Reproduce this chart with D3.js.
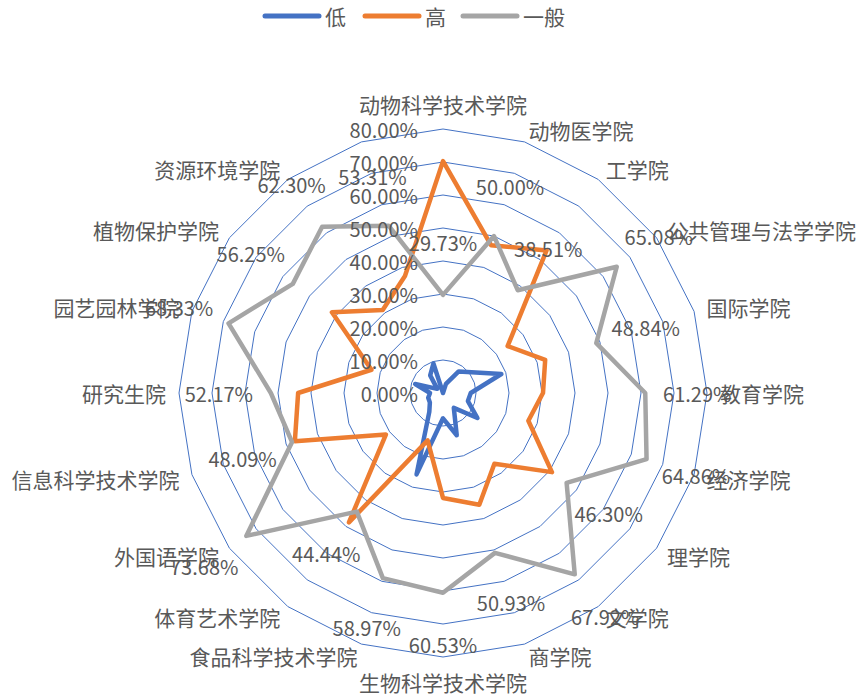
<!DOCTYPE html>
<html><head><meta charset="utf-8">
<script src="https://cdn.jsdelivr.net/npm/d3@7"></script>
<style>
html,body{margin:0;padding:0;background:#fff;}
text{font-family:"Noto Sans CJK SC","Noto Sans",sans-serif;fill:#595959;}
</style></head>
<body><svg id="chart" width="861" height="695"></svg>
<script>
const categories = ["动物科学技术学院","动物医学院","工学院","公共管理与法学学院","国际学院","教育学院","经济学院","理学院","文学院","商学院","生物科学技术学院","食品科学技术学院","体育艺术学院","外国语学院","信息科学技术学院","研究生院","园艺园林学院","植物保护学院","资源环境学院",""];
const seriesNames = ["低","高","一般"];
const lowValues  = [0.00,2.90,8.09,10.72,18.60,8.41,7.94,12.90,5.58,13.47,7.67,25.93,7.06,4.92,4.71,3.93,8.87,2.15,6.60,9.40];
const highValues = [70.27,47.10,53.40,24.20,32.56,30.30,27.20,40.80,26.50,35.60,31.80,15.10,48.50,21.40,47.20,43.90,22.80,41.60,31.10,37.29];
const midValues  = [29.73,50.00,38.51,65.08,48.84,61.29,64.86,46.30,67.92,50.93,60.53,58.97,44.44,73.68,48.09,52.17,68.33,56.25,62.30,53.31];
const tickValues = [0,10,20,30,40,50,60,70,80];
const colors = ["#4472C4","#ED7D31","#A5A5A5"];

const svg = d3.select("#chart");
const cx = 443, cy = 393;
const r = d3.scaleLinear().domain([0, 80]).range([0, 264]);
const angle = d3.scaleLinear().domain([0, categories.length]).range([0, 2*Math.PI]);
const pt = (i, v) => [cx + r(v)*Math.sin(angle(i)), cy - r(v)*Math.cos(angle(i))];

const g = svg.append("g");
// rings
tickValues.forEach(t => {
  if (t === 0) return;
  const pts = categories.map((c,i) => pt(i,t));
  g.append("path").attr("d", d3.line()(pts) + "Z")
    .attr("fill","none").attr("stroke","#4472C4").attr("stroke-width",1);
});

// series
const series = [lowValues, highValues, midValues];
series.forEach((vals, s) => {
  const pts = vals.map((v,i) => pt(i,v));
  g.append("path").attr("d", d3.line()(pts) + "Z")
    .attr("fill","none").attr("stroke",colors[s]).attr("stroke-width",4.5)
    .attr("stroke-linejoin","round");
});

// tick labels
tickValues.forEach(t => {
  g.append("text").attr("x", cx - 25).attr("y", cy - r(t))
    .attr("text-anchor","end").attr("dominant-baseline","central")
    .attr("font-size",20).text(t.toFixed(2) + "%");
});

// category labels
categories.forEach((c,i) => {
  const a = angle(i);
  const R = r(80) + 13;
  let x = cx + R*Math.sin(a), y = cy - R*Math.cos(a);
  const s = Math.sin(a);
  let anchor = "middle";
  if (s > 0.01) anchor = "start"; else if (s < -0.01) anchor = "end";
  else y += (Math.cos(a) > 0 ? -12 : 12);
  g.append("text").attr("x", x).attr("y", y)
    .attr("text-anchor", anchor).attr("dominant-baseline","central")
    .attr("font-size",21).text(c);
});

// data labels for 一般
midValues.forEach((v,i) => {
  const a = angle(i);
  const R = r(v) + 52;
  g.append("text").attr("x", cx + R*Math.sin(a)).attr("y", cy - R*Math.cos(a))
    .attr("text-anchor","middle").attr("dominant-baseline","central")
    .attr("font-size",20).text(v.toFixed(2) + "%");
});

// legend
const legendX = [265, 365, 463];
seriesNames.forEach((n,s) => {
  svg.append("line").attr("x1", legendX[s]).attr("x2", legendX[s]+54)
    .attr("y1",16).attr("y2",16).attr("stroke",colors[s]).attr("stroke-width",5)
    .attr("stroke-linecap","round");
  svg.append("text").attr("x", legendX[s]+60).attr("y",16)
    .attr("dominant-baseline","central").attr("font-size",21).text(n);
});
</script></body></html>
